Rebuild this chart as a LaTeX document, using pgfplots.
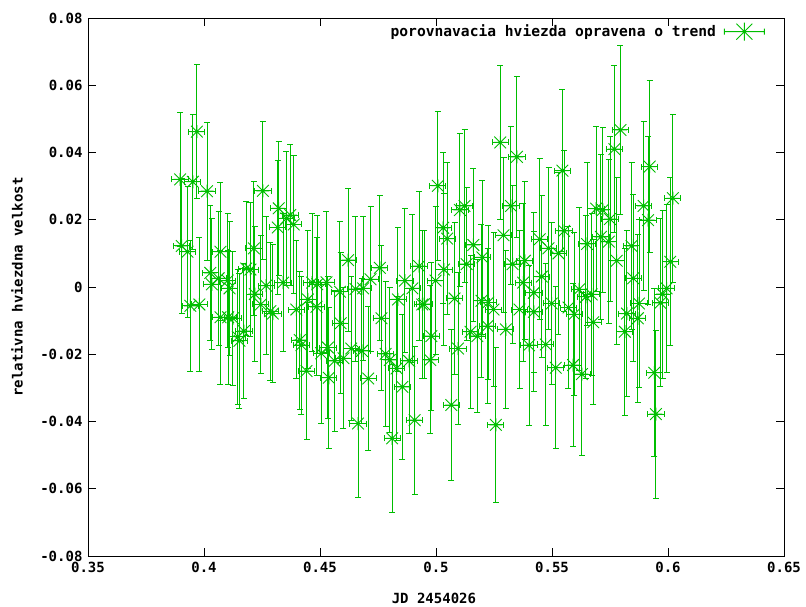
\documentclass[border=0pt]{standalone}
\usepackage{fontspec}
\setmainfont{DejaVu Sans Mono}
\usepackage{pgfplots}
\usepackage{pgfplotstable}
\pgfplotsset{compat=1.18}
\definecolor{gcol}{RGB}{0,190,0}
\pgfdeclareplotmark{gstar}{%
 \pgfpathmoveto{\pgfqpoint{-\pgfplotmarksize}{0pt}}\pgfpathlineto{\pgfqpoint{\pgfplotmarksize}{0pt}}%
 \pgfpathmoveto{\pgfqpoint{0pt}{-\pgfplotmarksize}}\pgfpathlineto{\pgfqpoint{0pt}{\pgfplotmarksize}}%
 \pgfpathmoveto{\pgfqpoint{-.9\pgfplotmarksize}{-.9\pgfplotmarksize}}\pgfpathlineto{\pgfqpoint{.9\pgfplotmarksize}{.9\pgfplotmarksize}}%
 \pgfpathmoveto{\pgfqpoint{-.9\pgfplotmarksize}{.9\pgfplotmarksize}}\pgfpathlineto{\pgfqpoint{.9\pgfplotmarksize}{-.9\pgfplotmarksize}}%
 \pgfusepathqstroke}
\pgfplotstableread{
x y ex ey
0.3897 0.0320 0.0035 0.0200
0.3969 0.0462 0.0035 0.0200
0.3952 0.0313 0.0035 0.0200
0.4013 0.0285 0.0035 0.0205
0.3904 0.0122 0.0035 0.0200
0.3929 0.0105 0.0035 0.0195
0.3941 -0.0056 0.0035 0.0195
0.3980 -0.0052 0.0035 0.0200
0.4027 0.0042 0.0035 0.0200
0.4063 0.0026 0.0035 0.0200
0.4034 0.0008 0.0035 0.0195
0.4071 0.0105 0.0035 0.0205
0.4102 0.0019 0.0035 0.0200
0.4110 -0.0004 0.0035 0.0200
0.4071 -0.0090 0.0035 0.0200
0.4104 -0.0090 0.0035 0.0200
0.4125 -0.0093 0.0035 0.0200
0.4146 -0.0148 0.0035 0.0200
0.4153 -0.0160 0.0035 0.0200
0.4172 -0.0131 0.0035 0.0200
0.4182 0.0055 0.0035 0.0200
0.4200 0.0052 0.0035 0.0200
0.4215 0.0115 0.0035 0.0200
0.4219 -0.0021 0.0035 0.0200
0.4254 0.0286 0.0035 0.0205
0.4322 0.0234 0.0035 0.0200
0.4318 0.0177 0.0035 0.0200
0.4355 0.0204 0.0035 0.0200
0.4372 0.0214 0.0035 0.0210
0.4387 0.0186 0.0035 0.0205
0.4268 0.0004 0.0035 0.0205
0.4245 -0.0052 0.0035 0.0205
0.4286 -0.0072 0.0035 0.0205
0.4297 -0.0079 0.0035 0.0205
0.4341 0.0013 0.0035 0.0205
0.4398 -0.0067 0.0035 0.0205
0.4413 -0.0158 0.0035 0.0205
0.4420 -0.0173 0.0035 0.0205
0.4442 -0.0250 0.0035 0.0205
0.4448 -0.0037 0.0035 0.0205
0.4466 0.0013 0.0035 0.0205
0.4488 0.0008 0.0035 0.0205
0.4485 -0.0059 0.0035 0.0205
0.4528 0.0014 0.0035 0.0210
0.4505 -0.0197 0.0035 0.0210
0.4534 -0.0180 0.0035 0.0210
0.4538 -0.0270 0.0035 0.0210
0.4586 -0.0014 0.0035 0.0210
0.4563 -0.0220 0.0035 0.0210
0.4601 -0.0212 0.0035 0.0210
0.4589 -0.0108 0.0035 0.0210
0.4621 0.0080 0.0035 0.0213
0.4635 -0.0183 0.0035 0.0215
0.4653 -0.0006 0.0035 0.0215
0.4686 -0.0004 0.0035 0.0215
0.4664 -0.0406 0.0035 0.0220
0.4681 -0.0190 0.0035 0.0215
0.4718 0.0023 0.0035 0.0215
0.4708 -0.0272 0.0035 0.0215
0.4758 0.0057 0.0035 0.0216
0.4765 -0.0093 0.0035 0.0215
0.4783 -0.0199 0.0035 0.0215
0.4801 -0.0217 0.0035 0.0215
0.4811 -0.0450 0.0035 0.0220
0.4830 -0.0242 0.0035 0.0215
0.4836 -0.0037 0.0035 0.0215
0.4855 -0.0297 0.0035 0.0215
0.4866 0.0019 0.0035 0.0215
0.4884 -0.0220 0.0035 0.0215
0.4898 -0.0004 0.0035 0.0220
0.4908 -0.0396 0.0035 0.0220
0.4927 0.0062 0.0035 0.0221
0.4941 -0.0052 0.0035 0.0220
0.4949 -0.0051 0.0035 0.0220
0.4975 -0.0217 0.0035 0.0220
0.4980 -0.0146 0.0035 0.0220
0.4998 0.0019 0.0035 0.0220
0.5008 0.0301 0.0035 0.0222
0.5031 0.0176 0.0035 0.0225
0.5034 0.0052 0.0035 0.0225
0.5048 0.0144 0.0035 0.0225
0.5080 -0.0034 0.0035 0.0225
0.5066 -0.0351 0.0035 0.0225
0.5095 -0.0183 0.0035 0.0225
0.5103 0.0229 0.0035 0.0228
0.5123 0.0241 0.0035 0.0228
0.5132 0.0068 0.0035 0.0228
0.5161 0.0125 0.0035 0.0228
0.5149 -0.0133 0.0035 0.0228
0.5178 -0.0146 0.0035 0.0228
0.5200 0.0088 0.0035 0.0228
0.5196 -0.0041 0.0035 0.0228
0.5225 -0.0046 0.0035 0.0230
0.5248 -0.0067 0.0035 0.0230
0.5222 -0.0116 0.0035 0.0230
0.5258 -0.0410 0.0035 0.0230
0.5277 0.0430 0.0035 0.0230
0.5291 0.0154 0.0035 0.0230
0.5301 -0.0126 0.0035 0.0235
0.5323 0.0241 0.0035 0.0235
0.5330 0.0068 0.0035 0.0235
0.5349 0.0387 0.0035 0.0240
0.5360 -0.0067 0.0035 0.0235
0.5376 0.0013 0.0035 0.0235
0.5383 0.0078 0.0035 0.0235
0.5401 -0.0173 0.0035 0.0238
0.5422 -0.0017 0.0035 0.0238
0.5422 -0.0074 0.0035 0.0238
0.5447 0.0142 0.0035 0.0240
0.5456 0.0031 0.0035 0.0240
0.5473 -0.0171 0.0035 0.0240
0.5485 0.0115 0.0035 0.0240
0.5499 -0.0049 0.0035 0.0240
0.5516 -0.0240 0.0035 0.0240
0.5528 0.0100 0.0035 0.0240
0.5545 0.0346 0.0035 0.0240
0.5552 0.0167 0.0035 0.0240
0.5571 -0.0061 0.0035 0.0240
0.5591 -0.0232 0.0035 0.0242
0.5596 -0.0081 0.0035 0.0242
0.5617 -0.0007 0.0035 0.0242
0.5629 -0.0259 0.0035 0.0242
0.5646 -0.0029 0.0035 0.0242
0.5651 0.0128 0.0035 0.0242
0.5671 -0.0022 0.0035 0.0242
0.5678 -0.0105 0.0035 0.0245
0.5690 0.0233 0.0035 0.0245
0.5711 0.0149 0.0035 0.0245
0.5719 0.0229 0.0035 0.0245
0.5745 0.0135 0.0035 0.0245
0.5750 0.0202 0.0035 0.0245
0.5769 0.0410 0.0035 0.0248
0.5795 0.0467 0.0035 0.0250
0.5779 0.0078 0.0035 0.0248
0.5814 -0.0133 0.0035 0.0248
0.5823 -0.0079 0.0035 0.0248
0.5843 0.0122 0.0035 0.0248
0.5850 0.0026 0.0035 0.0248
0.5875 -0.0049 0.0035 0.0250
0.5870 -0.0093 0.0035 0.0250
0.5895 0.0241 0.0035 0.0250
0.5914 0.0199 0.0035 0.0250
0.5921 0.0358 0.0035 0.0255
0.5941 -0.0255 0.0035 0.0250
0.5948 -0.0378 0.0035 0.0250
0.5967 -0.0047 0.0035 0.0250
0.5977 -0.0021 0.0035 0.0250
0.5994 -0.0004 0.0035 0.0250
0.6010 0.0075 0.0035 0.0250
0.6021 0.0264 0.0035 0.0250
}\datatable
\begin{document}
\begin{tikzpicture}[x=1pt,y=1pt]
\path[use as bounding box] (-88,-51) rectangle (718,556);
\begin{axis}[
  at={(0,0)}, anchor=south west,
  scale only axis, width=696pt, height=538pt,
  xmin=0.35, xmax=0.65, ymin=-0.08, ymax=0.08,
  xtick={0.35,0.4,...,0.65}, ytick={-0.08,-0.06,...,0.08},
  scaled x ticks=false, scaled y ticks=false,
  tick align=inside, major tick length=8pt,
  xtick pos=both, ytick pos=both,
  axis line style={line width=0.8pt, black},
  tick style={line width=0.8pt, black},
  /pgf/number format/.cd, fixed, precision=2, assume math mode=true, /pgfplots/.cd,
  ticklabel style={font=\fontsize{14}{16}\selectfont\bfseries},
  yticklabel style={xshift=-2pt},
  xticklabel style={yshift=-3pt},
  xlabel={JD 2454026},
  ylabel={relativna hviezdna velkost},
  label style={font=\fontsize{14}{16}\selectfont\bfseries},
  xlabel style={at={(axis description cs:0.497,-0.078)}, anchor=center},
  ylabel style={at={(axis description cs:-0.102,0.5)}, anchor=center},
  legend plot pos=right,
  legend style={at={(rel axis cs:1,1)}, anchor=north east, xshift=-16pt, yshift=-2pt,
    draw=none, fill=none, column sep=6pt, font=\fontsize{14.6}{16}\selectfont\bfseries},
  legend image code/.code={
    \draw[line width=0.9pt, gcol] (0pt,0pt) -- (40pt,0pt)
      (0pt,-3pt) -- (0pt,3pt) (40pt,-3pt) -- (40pt,3pt)
      (11pt,0pt) -- (29pt,0pt) (20pt,-9pt) -- (20pt,9pt)
      (12pt,-8pt) -- (28pt,8pt) (12pt,8pt) -- (28pt,-8pt);
  },
]
\addplot[only marks, mark=gstar, mark size=6.5pt, color=gcol, line width=0.9pt,
  error bars/.cd, x dir=both, x explicit, y dir=both, y explicit,
  error bar style={solid, line width=1pt, draw=gcol},
  error mark options={solid, rotate=90, line width=1pt, draw=gcol, mark size=3pt}]
  table[x=x, y=y, x error=ex, y error=ey] {\datatable};
\addlegendentry{porovnavacia hviezda opravena o trend}
\end{axis}
\end{tikzpicture}
\end{document}
